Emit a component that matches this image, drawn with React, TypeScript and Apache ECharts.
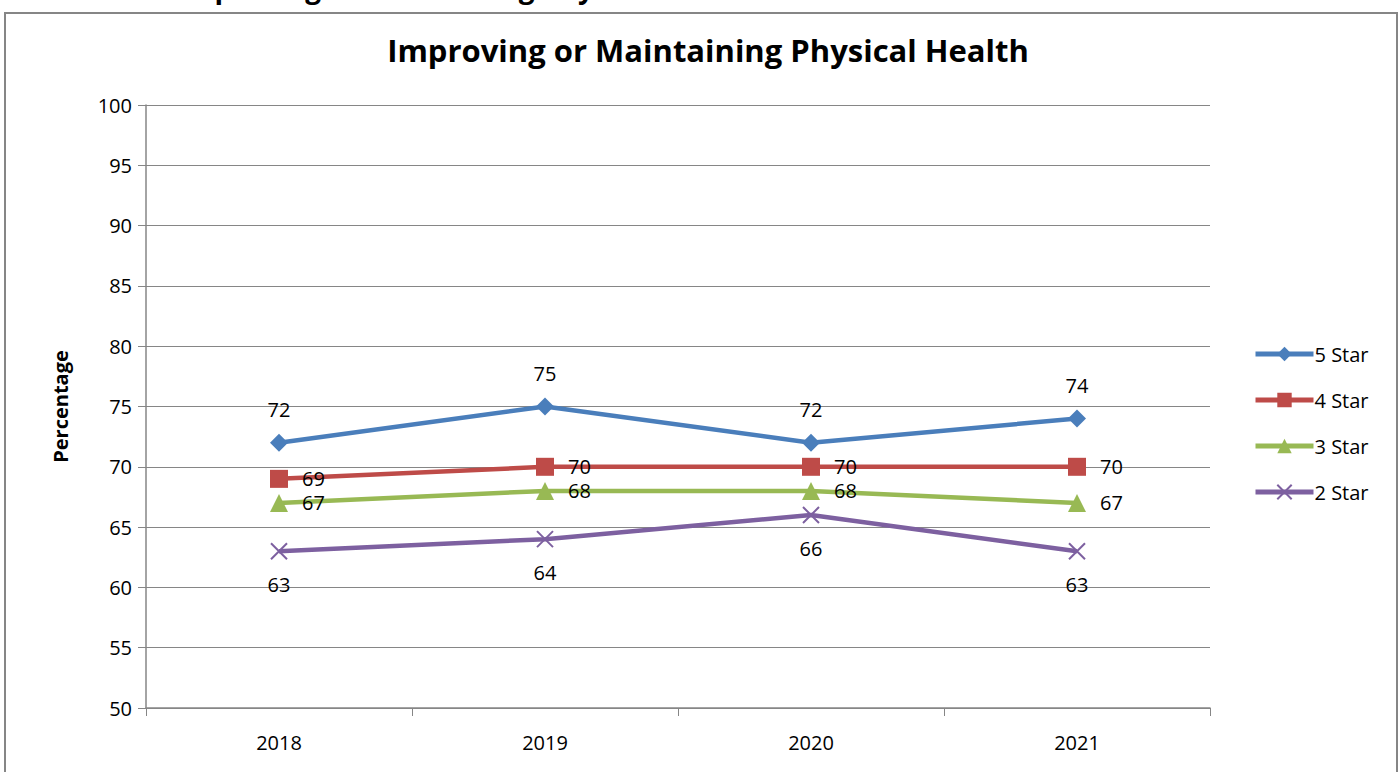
import React, { useEffect, useRef } from "react";
import * as echarts from "echarts";

const categories = ["2018", "2019", "2020", "2021"];
const star5 = [72, 75, 72, 74];
const star4 = [69, 70, 70, 70];
const star3 = [67, 68, 68, 67];
const star2 = [63, 64, 66, 63];
const seriesNames = ["5 Star", "4 Star", "3 Star", "2 Star"];
const yTicks = { min: 50, max: 100, interval: 5 };

const FONT = "'Open Sans', 'Noto Sans', sans-serif";
const XPATH = "path://M0,0L10,10M10,0L0,10";

export default function App() {
  const ref = useRef<HTMLDivElement>(null);
  useEffect(() => {
    document.body.style.margin = "0";
    const chart = echarts.init(ref.current!, null, { renderer: "svg" });
    const label = (pos: string, dist = 10) => ({
      show: true,
      position: pos,
      distance: dist,
      color: "#000",
      fontSize: 20,
      fontFamily: FONT,
    });
    chart.setOption({
      animation: false,
      backgroundColor: "#fff",
      title: {
        text: "Improving or Maintaining Physical Health",
        left: 703,
        textAlign: "center",
        top: 29,
        textStyle: { fontSize: 31, fontWeight: "bold", color: "#000", fontFamily: FONT },
      },
      graphic: [
        {
          type: "rect",
          shape: { x: 5, y: 13, width: 1392, height: 780 },
          style: { fill: "none", stroke: "#868686", lineWidth: 2 },
          silent: true,
        },
        {
          type: "text",
          left: 0,
          top: -27,
          style: {
            text: "Measure C8: Improving or Maintaining Physical Health",
            font: `bold 28px ${FONT}`,
            fill: "#000",
          },
        },
      ],
      grid: { left: 146, right: 190, top: 105, bottom: 64 },
      legend: {
        orient: "vertical",
        left: 1248,
        top: 339,
        itemWidth: 58,
        itemHeight: 18,
        itemGap: 26,
        lineStyle: { width: 5 },
        textStyle: { fontSize: 20, color: "#000", fontFamily: FONT, padding: [0, 0, 0, -4] },
        data: seriesNames,
      },
      xAxis: {
        type: "category",
        data: categories,
        boundaryGap: true,
        axisLine: { lineStyle: { color: "#868686", width: 1.5 } },
        axisTick: { show: true, length: 8, lineStyle: { color: "#868686" } },
        axisLabel: { color: "#000", fontSize: 20, margin: 24, fontFamily: FONT },
      },
      yAxis: {
        type: "value",
        min: yTicks.min,
        max: yTicks.max,
        interval: yTicks.interval,
        name: "Percentage",
        nameLocation: "middle",
        nameGap: 76,
        nameTextStyle: { fontSize: 20, fontWeight: "bold", color: "#000", fontFamily: FONT },
        axisLine: { show: true, lineStyle: { color: "#868686", width: 1.5 } },
        axisTick: { show: true, length: 8, lineStyle: { color: "#868686" } },
        axisLabel: { color: "#000", fontSize: 20, margin: 14, fontFamily: FONT },
        splitLine: { lineStyle: { color: "#868686", width: 1 } },
      },
      series: [
        {
          name: seriesNames[0],
          type: "line",
          data: star5,
          color: "#4a7ebb",
          lineStyle: { width: 4.5 },
          symbol: "diamond",
          symbolSize: 18,
          label: label("top", 14),
        },
        {
          name: seriesNames[1],
          type: "line",
          data: star4,
          color: "#be4b48",
          lineStyle: { width: 4.5 },
          symbol: "rect",
          symbolSize: 18,
          label: label("right", 14),
        },
        {
          name: seriesNames[2],
          type: "line",
          data: star3,
          color: "#98b954",
          lineStyle: { width: 4.5 },
          symbol: "triangle",
          symbolSize: 18,
          label: label("right", 14),
        },
        {
          name: seriesNames[3],
          type: "line",
          data: star2,
          color: "#7d60a0",
          lineStyle: { width: 4.5 },
          symbol: XPATH,
          symbolSize: 16,
          itemStyle: { borderColor: "#7d60a0", borderWidth: 2 },
          label: label("bottom", 14),
        },
      ],
    });
    return () => chart.dispose();
  }, []);
  return <div ref={ref} style={{ width: 1400, height: 772 }} />;
}
